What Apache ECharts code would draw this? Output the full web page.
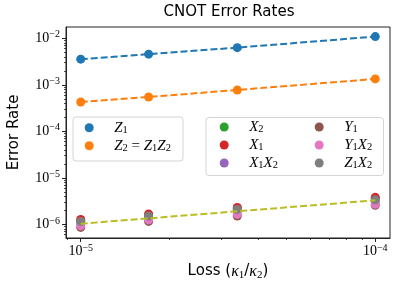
<!DOCTYPE html>
<html><head><meta charset="utf-8">
<script src="https://cdn.jsdelivr.net/npm/echarts@6/dist/echarts.min.js"></script>
<style>html,body{margin:0;padding:0;background:#fff}#c{width:399px;height:290px}</style>
</head><body><div id="c"></div>
<script>
// ---- data ----
const loss = [1e-5, 1.7e-5, 3.4e-5, 1e-4];
const errZ1   = [3.56e-3, 4.57e-3, 6.3e-3, 1.09e-2];
const errZ2   = [4.28e-4, 5.48e-4, 7.76e-4, 1.34e-3];
const errX2   = [1.22e-6, 1.60e-6, 2.21e-6, 3.63e-6];
const errX1   = [1.28e-6, 1.68e-6, 2.32e-6, 3.82e-6];
const errX1X2 = [1.05e-6, 1.41e-6, 1.91e-6, 3.06e-6];
const errY1   = [0.862e-6, 1.16e-6, 1.52e-6, 2.57e-6];
const errY1X2 = [0.928e-6, 1.25e-6, 1.64e-6, 2.70e-6];
const errZ1X2 = [1.16e-6, 1.52e-6, 2.10e-6, 3.37e-6];
const fitX = [1e-5, 1e-4];
const fitY = [1.035e-6, 3.29e-6];
const xTickVals = [1e-5, 1e-4];
const xTickExps = ['\u22125', '\u22124'];
const yTickVals = [1e-6, 1e-5, 1e-4, 1e-3, 1e-2];
const yTickExps = ['\u22126', '\u22125', '\u22124', '\u22123', '\u22122'];
const legendLabels = {
  Z1: '{m|Z}{s|1}',
  Z2: '{m|Z}{s|2}{e| = }{m|Z}{s|1}{m|Z}{s|2}',
  X2: '{m|X}{s|2}',
  X1: '{m|X}{s|1}',
  X1X2: '{m|X}{s|1}{m|X}{s|2}',
  Y1: '{m|Y}{s|1}',
  Y1X2: '{m|Y}{s|1}{m|X}{s|2}',
  Z1X2: '{m|Z}{s|1}{m|X}{s|2}'
};
// ---- layout constants ----
const XMIN = Math.pow(10, -5.05), XMAX = Math.pow(10, -3.95);
const YMIN = Math.pow(10, -6.292), YMAX = Math.pow(10, -1.757);
const SERIF = 'Liberation Serif';
const SANS = 'DejaVu Sans';
const colors = {Z1:'#1f77b4', Z2:'#ff7f0e', X2:'#2ca02c', X1:'#d62728', X1X2:'#9467bd', Y1:'#8c564b', Y1X2:'#e377c2', Z1X2:'#7f7f7f'};

function minorTicks(lo, hi, a, b) {
  const out = [];
  for (let e = lo; e <= hi; e++) for (let m = 2; m <= 9; m++) {
    const v = m * Math.pow(10, e);
    if (v >= a && v <= b) out.push(v);
  }
  return out;
}
function expFor(vals, exps, v) {
  const i = vals.findIndex(t => Math.abs(Math.log10(t) - Math.log10(v)) < 1e-6);
  return i >= 0 ? exps[i] : '';
}
const tickRich = {
  b: {fontFamily: SERIF, fontSize: 14, lineHeight: 17, color: '#000'},
  p: {fontFamily: SERIF, fontSize: 10, lineHeight: 10, verticalAlign: 'top', color: '#000'}
};
const mathRich = {
  m: {fontFamily: SERIF, fontStyle: 'italic', fontSize: 15, lineHeight: 16, color: '#000'},
  s: {fontFamily: SERIF, fontSize: 10.5, lineHeight: 10, verticalAlign: 'bottom', color: '#000'},
  e: {fontFamily: SERIF, fontSize: 15, lineHeight: 16, color: '#000'}
};
const axisCol = '#222';

const dataOf = arr => loss.map((x, i) => [x, arr[i]]);
const series = [
  {name:'Z1', type:'line', data:dataOf(errZ1)},
  {name:'Z2', type:'line', data:dataOf(errZ2)},
  {name:'X2', type:'scatter', data:dataOf(errX2)},
  {name:'X1', type:'scatter', data:dataOf(errX1)},
  {name:'X1X2', type:'scatter', data:dataOf(errX1X2)},
  {name:'Y1', type:'scatter', data:dataOf(errY1)},
  {name:'Y1X2', type:'scatter', data:dataOf(errY1X2)},
  {name:'Z1X2', type:'scatter', data:dataOf(errZ1X2)}
].map(s => {
  const c = colors[s.name];
  const o = Object.assign(s, {symbol:'circle', symbolSize:9, itemStyle:{color:c, opacity:1}, emphasis:{disabled:true}, z:2});
  if (s.type === 'line') {
    o.lineStyle = {color:c, width:2, type:[7,3]};
    o.showSymbol = true;
  }
  return o;
});
series.push({name:'fit', type:'line', data: fitX.map((x,i)=>[x, fitY[i]]), showSymbol:false, symbol:'none',
  lineStyle:{color:'#bcbd22', width:2, type:[7,3]}, emphasis:{disabled:true}, z:3});

function legendCfg(names, left, top) {
  return {
    data: names, orient:'vertical', left:left, top:top, padding:0, itemGap:2.5,
    itemWidth:14, itemHeight:9, icon:'circle', selectedMode:false, z:20,
    formatter: n => legendLabels[n],
    textStyle: {padding:[0,0,0,13], rich: mathRich}
  };
}

const chart = echarts.init(document.getElementById('c'), null, {renderer:'canvas'});
chart.setOption({
  animation:false,
  backgroundColor:'#fff',
  grid: {left:66, right:9, top:27, bottom:52, show:true, borderColor:axisCol, borderWidth:1, backgroundColor:'transparent', outerBoundsMode:'none'},
  xAxis: [
    {type:'log', min:XMIN, max:XMAX, position:'bottom',
     name:'{t|Loss (}{k|\u03ba}{s|1}{t|/}{k|\u03ba}{s|2}{t|)}', nameLocation:'middle', nameGap:23,
     nameTextStyle:{rich:{
       t:{fontFamily:SANS, fontSize:15, lineHeight:18, color:'#000'},
       k:{fontFamily:SERIF, fontStyle:'italic', fontSize:16, lineHeight:18, color:'#000'},
       s:{fontFamily:SERIF, fontSize:11, lineHeight:10, verticalAlign:'bottom', color:'#000'}}},
     axisLine:{show:true, lineStyle:{color:axisCol, width:1}},
     axisTick:{show:true, customValues:xTickVals, length:4, lineStyle:{color:axisCol, width:1}},
     axisLabel:{customValues:xTickVals, margin:5, formatter: v => '{b|10}{p|' + expFor(xTickVals, xTickExps, v) + '}', rich:tickRich},
     splitLine:{show:false}, minorTick:{show:false}},
    {type:'log', min:XMIN, max:XMAX, position:'bottom',
     axisLine:{show:false}, axisLabel:{show:false}, splitLine:{show:false},
     axisTick:{show:true, customValues:minorTicks(-6,-4,XMIN,XMAX), length:2, lineStyle:{color:axisCol, width:0.8}}}
  ],
  yAxis: [
    {type:'log', min:YMIN, max:YMAX, position:'left',
     name:'Error Rate', nameLocation:'middle', nameGap:44, nameRotate:90,
     nameTextStyle:{fontFamily:SANS, fontSize:15, color:'#000'},
     axisLine:{show:true, lineStyle:{color:axisCol, width:1}},
     axisTick:{show:true, customValues:yTickVals, length:4, lineStyle:{color:axisCol, width:1}},
     axisLabel:{customValues:yTickVals, margin:6, formatter: v => '{b|10}{p|' + expFor(yTickVals, yTickExps, v) + '}', rich:tickRich},
     splitLine:{show:false}, minorTick:{show:false}},
    {type:'log', min:YMIN, max:YMAX, position:'left',
     axisLine:{show:false}, axisLabel:{show:false}, splitLine:{show:false},
     axisTick:{show:true, customValues:minorTicks(-7,-2,YMIN,YMAX), length:2, lineStyle:{color:axisCol, width:0.8}}}
  ],
  legend: [
    legendCfg(['Z1','Z2'], 84.7, 120.3),
    legendCfg(['X2','X1','X1X2'], 219.7, 119.5),
    legendCfg(['Y1','Y1X2','Z1X2'], 314.7, 119.5)
  ],
  graphic: [
    {type:'rect', z:10, shape:{x:73, y:117, width:110, height:44, r:3}, style:{fill:'rgba(255,255,255,0.8)', stroke:'#d4d4d4', lineWidth:1}},
    {type:'rect', z:10, shape:{x:206, y:117.5, width:177.5, height:58, r:3}, style:{fill:'rgba(255,255,255,0.8)', stroke:'#d4d4d4', lineWidth:1}},
    {type:'text', z:10, x:229, y:12, style:{text:'CNOT Error Rates', fontFamily:SANS, fontSize:15, fill:'#000', align:'center', verticalAlign:'middle'}}
  ],
  series: series
});
</script>
</body></html>
